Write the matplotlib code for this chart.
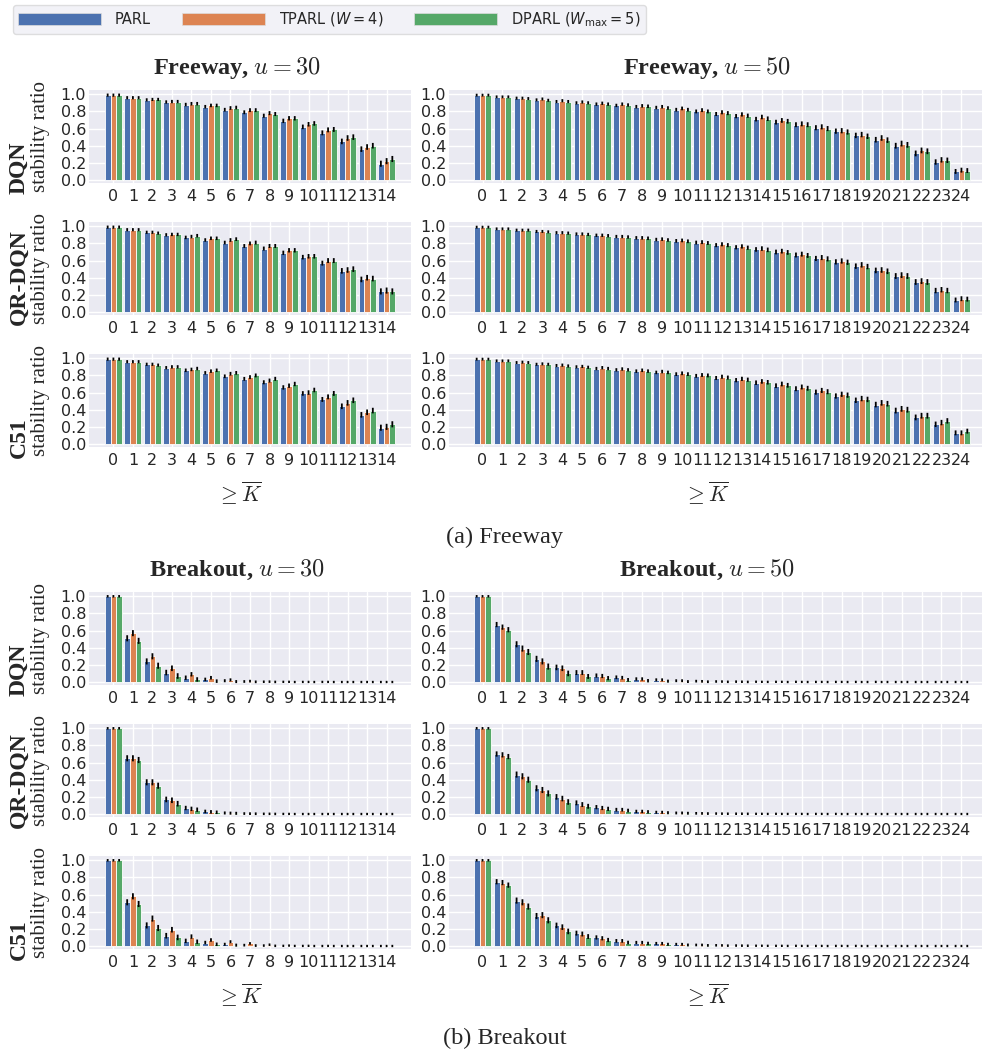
import matplotlib
matplotlib.use('Agg')
import matplotlib.pyplot as plt
import numpy as np
import seaborn as sns
from matplotlib.patches import Patch
from matplotlib.ticker import FormatStrFormatter

sns.set_theme(style='darkgrid')
plt.rcParams['font.family'] = ['DejaVu Sans']

# ---------------- data ----------------
methods = ['PARL', 'TPARL ($W = 4$)', 'DPARL ($W_{\\max} = 5$)']
colors = ['#4C72B0', '#DD8452', '#55A868']
algos = ['DQN', 'QR-DQN', 'C51']
k30 = list(range(15))
k50 = list(range(25))

# Freeway, u = 30
fw30_dqn_parl  = [0.99, 0.96, 0.935, 0.91, 0.88, 0.855, 0.82, 0.79, 0.75, 0.69, 0.62, 0.55, 0.45, 0.36, 0.19]
fw30_dqn_tparl = [0.99, 0.96, 0.94, 0.915, 0.89, 0.87, 0.84, 0.815, 0.78, 0.72, 0.65, 0.585, 0.49, 0.385, 0.22]
fw30_dqn_dparl = [0.99, 0.96, 0.94, 0.915, 0.89, 0.87, 0.845, 0.815, 0.77, 0.72, 0.66, 0.59, 0.50, 0.40, 0.245]
fw30_qr_parl   = [0.99, 0.96, 0.93, 0.90, 0.87, 0.84, 0.81, 0.77, 0.74, 0.69, 0.64, 0.57, 0.48, 0.38, 0.24]
fw30_qr_tparl  = [0.99, 0.96, 0.93, 0.905, 0.88, 0.86, 0.84, 0.80, 0.77, 0.72, 0.65, 0.60, 0.49, 0.40, 0.25]
fw30_qr_dparl  = [0.99, 0.96, 0.92, 0.905, 0.89, 0.86, 0.85, 0.81, 0.77, 0.72, 0.65, 0.60, 0.50, 0.39, 0.24]
fw30_c51_parl  = [0.99, 0.96, 0.93, 0.89, 0.86, 0.83, 0.79, 0.76, 0.72, 0.66, 0.59, 0.52, 0.44, 0.34, 0.19]
fw30_c51_tparl = [0.99, 0.96, 0.93, 0.90, 0.87, 0.85, 0.82, 0.78, 0.74, 0.68, 0.60, 0.55, 0.48, 0.37, 0.20]
fw30_c51_dparl = [0.99, 0.96, 0.92, 0.90, 0.88, 0.86, 0.83, 0.80, 0.76, 0.70, 0.63, 0.59, 0.51, 0.39, 0.23]
fw30_err = [0.008, 0.008, 0.008, 0.009, 0.01, 0.01, 0.011, 0.012, 0.013, 0.015, 0.016, 0.018, 0.022, 0.022, 0.025]

# Freeway, u = 50
fw50_dqn_parl  = [0.99, 0.97, 0.955, 0.935, 0.915, 0.90, 0.885, 0.87, 0.855, 0.845, 0.82, 0.80, 0.77, 0.745, 0.71,
                  0.675, 0.645, 0.61, 0.57, 0.52, 0.47, 0.40, 0.31, 0.21, 0.10]
fw50_dqn_tparl = [0.99, 0.97, 0.955, 0.945, 0.925, 0.91, 0.895, 0.885, 0.865, 0.855, 0.835, 0.815, 0.79, 0.765, 0.735,
                  0.695, 0.655, 0.62, 0.575, 0.53, 0.49, 0.425, 0.345, 0.235, 0.115]
fw50_dqn_dparl = [0.99, 0.97, 0.95, 0.93, 0.915, 0.90, 0.885, 0.875, 0.86, 0.84, 0.82, 0.80, 0.78, 0.75, 0.715,
                  0.685, 0.645, 0.60, 0.56, 0.51, 0.465, 0.41, 0.335, 0.23, 0.11]
fw50_qr_parl   = [0.99, 0.97, 0.955, 0.94, 0.925, 0.91, 0.895, 0.88, 0.865, 0.845, 0.83, 0.81, 0.78, 0.755, 0.73,
                  0.70, 0.665, 0.625, 0.585, 0.535, 0.485, 0.42, 0.35, 0.25, 0.14]
fw50_qr_tparl  = [0.99, 0.97, 0.955, 0.94, 0.925, 0.91, 0.895, 0.88, 0.865, 0.85, 0.835, 0.815, 0.79, 0.765, 0.74,
                  0.71, 0.675, 0.635, 0.595, 0.55, 0.49, 0.43, 0.36, 0.26, 0.155]
fw50_qr_dparl  = [0.99, 0.97, 0.955, 0.935, 0.92, 0.905, 0.89, 0.875, 0.86, 0.84, 0.825, 0.805, 0.78, 0.75, 0.725,
                  0.695, 0.66, 0.62, 0.58, 0.53, 0.475, 0.42, 0.35, 0.25, 0.15]
fw50_c51_parl  = [0.99, 0.97, 0.95, 0.93, 0.915, 0.90, 0.88, 0.865, 0.85, 0.835, 0.815, 0.795, 0.77, 0.745, 0.715,
                  0.68, 0.645, 0.605, 0.56, 0.51, 0.46, 0.39, 0.31, 0.23, 0.13]
fw50_c51_tparl = [0.99, 0.97, 0.955, 0.935, 0.92, 0.905, 0.89, 0.875, 0.86, 0.845, 0.825, 0.805, 0.785, 0.76, 0.73,
                  0.70, 0.665, 0.625, 0.58, 0.53, 0.48, 0.41, 0.33, 0.25, 0.13]
fw50_c51_dparl = [0.99, 0.97, 0.95, 0.93, 0.91, 0.895, 0.88, 0.865, 0.85, 0.835, 0.815, 0.80, 0.775, 0.75, 0.72,
                  0.685, 0.65, 0.61, 0.57, 0.52, 0.47, 0.40, 0.33, 0.27, 0.15]
fw50_err = [0.006, 0.006, 0.007, 0.007, 0.008, 0.008, 0.009, 0.009, 0.01, 0.01, 0.011, 0.012, 0.013, 0.014, 0.016,
            0.017, 0.018, 0.019, 0.02, 0.021, 0.022, 0.023, 0.023, 0.021, 0.018]

# Breakout, u = 30
bo30_dqn_parl  = [1.0, 0.51, 0.24, 0.11, 0.05, 0.03, 0.015, 0.006, 0.003, 0.002, 0.001, 0.001, 0.0, 0.0, 0.0]
bo30_dqn_tparl = [1.0, 0.57, 0.30, 0.16, 0.09, 0.05, 0.025, 0.01, 0.004, 0.002, 0.001, 0.001, 0.0, 0.0, 0.0]
bo30_dqn_dparl = [1.0, 0.48, 0.19, 0.07, 0.03, 0.01, 0.005, 0.002, 0.001, 0.0, 0.0, 0.0, 0.0, 0.0, 0.0]
bo30_qr_parl   = [1.0, 0.65, 0.37, 0.17, 0.07, 0.03, 0.012, 0.005, 0.002, 0.001, 0.0, 0.0, 0.0, 0.0, 0.0]
bo30_qr_tparl  = [1.0, 0.65, 0.37, 0.16, 0.06, 0.025, 0.01, 0.004, 0.002, 0.001, 0.0, 0.0, 0.0, 0.0, 0.0]
bo30_qr_dparl  = [1.0, 0.63, 0.33, 0.12, 0.05, 0.02, 0.008, 0.003, 0.001, 0.0, 0.0, 0.0, 0.0, 0.0, 0.0]
bo30_c51_parl  = [1.0, 0.51, 0.24, 0.12, 0.06, 0.04, 0.02, 0.01, 0.005, 0.002, 0.001, 0.0, 0.0, 0.0, 0.0]
bo30_c51_tparl = [1.0, 0.58, 0.32, 0.19, 0.11, 0.07, 0.05, 0.03, 0.015, 0.005, 0.002, 0.001, 0.0, 0.0, 0.0]
bo30_c51_dparl = [1.0, 0.49, 0.21, 0.10, 0.05, 0.02, 0.01, 0.005, 0.002, 0.001, 0.0, 0.0, 0.0, 0.0, 0.0]
bo30_err = [0.004, 0.025, 0.025, 0.022, 0.015, 0.01, 0.007, 0.005, 0.004, 0.003, 0.003, 0.003, 0.003, 0.003, 0.003]

# Breakout, u = 50
bo50_dqn_parl  = [1.0, 0.67, 0.44, 0.27, 0.17, 0.11, 0.075, 0.055, 0.035, 0.025, 0.015, 0.01, 0.006, 0.004, 0.003,
                  0.002, 0.002, 0.001, 0.001, 0.001, 0.001, 0.0, 0.0, 0.0, 0.0]
bo50_dqn_tparl = [1.0, 0.64, 0.39, 0.24, 0.16, 0.11, 0.07, 0.05, 0.035, 0.025, 0.015, 0.008, 0.005, 0.003, 0.002,
                  0.002, 0.001, 0.001, 0.001, 0.0, 0.0, 0.0, 0.0, 0.0, 0.0]
bo50_dqn_dparl = [1.0, 0.61, 0.35, 0.18, 0.10, 0.065, 0.045, 0.025, 0.015, 0.01, 0.005, 0.003, 0.002, 0.001, 0.001,
                  0.0, 0.0, 0.0, 0.0, 0.0, 0.0, 0.0, 0.0, 0.0, 0.0]
bo50_qr_parl   = [1.0, 0.70, 0.46, 0.30, 0.20, 0.13, 0.08, 0.05, 0.03, 0.02, 0.012, 0.008, 0.005, 0.003, 0.002,
                  0.002, 0.001, 0.001, 0.001, 0.0, 0.0, 0.0, 0.0, 0.0, 0.0]
bo50_qr_tparl  = [1.0, 0.69, 0.44, 0.28, 0.18, 0.11, 0.07, 0.05, 0.03, 0.02, 0.012, 0.007, 0.004, 0.003, 0.002,
                  0.001, 0.001, 0.001, 0.0, 0.0, 0.0, 0.0, 0.0, 0.0, 0.0]
bo50_qr_dparl  = [1.0, 0.67, 0.40, 0.24, 0.14, 0.09, 0.06, 0.04, 0.025, 0.015, 0.009, 0.005, 0.003, 0.002, 0.001,
                  0.001, 0.0, 0.0, 0.0, 0.0, 0.0, 0.0, 0.0, 0.0, 0.0]
bo50_c51_parl  = [1.0, 0.75, 0.53, 0.35, 0.24, 0.15, 0.10, 0.06, 0.04, 0.03, 0.02, 0.012, 0.008, 0.005, 0.003,
                  0.002, 0.002, 0.001, 0.001, 0.001, 0.0, 0.0, 0.0, 0.0, 0.0]
bo50_c51_tparl = [1.0, 0.74, 0.51, 0.36, 0.22, 0.14, 0.09, 0.06, 0.04, 0.03, 0.02, 0.012, 0.007, 0.004, 0.003,
                  0.002, 0.001, 0.001, 0.001, 0.0, 0.0, 0.0, 0.0, 0.0, 0.0]
bo50_c51_dparl = [1.0, 0.71, 0.46, 0.30, 0.17, 0.11, 0.07, 0.04, 0.03, 0.02, 0.012, 0.007, 0.004, 0.003, 0.002,
                  0.001, 0.001, 0.0, 0.0, 0.0, 0.0, 0.0, 0.0, 0.0, 0.0]
bo50_err = [0.004, 0.02, 0.025, 0.025, 0.022, 0.018, 0.014, 0.011, 0.009, 0.007, 0.006, 0.005, 0.004, 0.004, 0.003,
            0.003, 0.003, 0.003, 0.003, 0.003, 0.003, 0.003, 0.003, 0.003, 0.003]

# ---------------- figure ----------------
W, H = 985, 1053
fig = plt.figure(figsize=(W / 100, H / 100), dpi=100)


def rect(x0, y0, x1, y1):
    return [x0 / W, 1 - y1 / H, (x1 - x0) / W, (y1 - y0) / H]


def fx(x):
    return x / W


def fy(y):
    return 1 - y / H


def draw(ax, series, err, ks, xlim):
    x = np.arange(len(ks))
    w = 0.88 / 3
    for i, (vals, c) in enumerate(zip(series, colors)):
        xs = x + (i - 1) * w
        ax.bar(xs, vals, width=w, color=c, edgecolor='white', linewidth=0.6, zorder=2)
        for xi, v, e in zip(xs, vals, err):
            ax.plot([xi, xi], [v - e, v + e], color='black', lw=1.3,
                    solid_capstyle='projecting', snap=False, zorder=3)
    ax.set_xticks(x)
    ax.set_xticklabels([str(k) for k in ks])
    ax.set_yticks([0.0, 0.2, 0.4, 0.6, 0.8, 1.0])
    ax.yaxis.set_major_formatter(FormatStrFormatter('%.1f'))
    ax.set_ylim(-0.035, 1.05)
    ax.set_xlim(*xlim)
    ax.tick_params(labelsize=11.5, length=0)
    ax.tick_params(axis='x', pad=4)
    ax.tick_params(axis='y', pad=2)
    for s in ax.spines.values():
        s.set_visible(False)


serif = 'Liberation Serif'

sections = [
    ('Freeway', 90, [(fw30_dqn_parl, fw30_dqn_tparl, fw30_dqn_dparl),
                     (fw30_qr_parl, fw30_qr_tparl, fw30_qr_dparl),
                     (fw30_c51_parl, fw30_c51_tparl, fw30_c51_dparl)],
     [(fw50_dqn_parl, fw50_dqn_tparl, fw50_dqn_dparl),
      (fw50_qr_parl, fw50_qr_tparl, fw50_qr_dparl),
      (fw50_c51_parl, fw50_c51_tparl, fw50_c51_dparl)], fw30_err, fw50_err, '(a) Freeway', 537),
    ('Breakout', 592, [(bo30_dqn_parl, bo30_dqn_tparl, bo30_dqn_dparl),
                       (bo30_qr_parl, bo30_qr_tparl, bo30_qr_dparl),
                       (bo30_c51_parl, bo30_c51_tparl, bo30_c51_dparl)],
     [(bo50_dqn_parl, bo50_dqn_tparl, bo50_dqn_dparl),
      (bo50_qr_parl, bo50_qr_tparl, bo50_qr_dparl),
      (bo50_c51_parl, bo50_c51_tparl, bo50_c51_dparl)], bo30_err, bo50_err, '(b) Breakout', 1038),
]

row_step = 132
ax_h = 93
for game, top0, s30, s50, e30, e50, caption, cap_y in sections:
    for r in range(3):
        top = top0 + r * row_step
        axl = fig.add_axes(rect(89, top, 411, top + ax_h))
        draw(axl, s30[r], e30, k30, (-1.25, 15.25))
        axr = fig.add_axes(rect(449, top, 982, top + ax_h))
        draw(axr, s50[r], e50, k50, (-1.68, 25.03))
        # row labels
        cy = top + ax_h / 2
        fig.text(fx(41), fy(cy), 'stability ratio', rotation=90, ha='center', va='center',
                 family=serif, fontsize=15)
        fig.text(fx(19), fy(cy + 57), algos[r], rotation=90, rotation_mode='anchor',
                 ha='left', va='center', family=serif, fontweight='bold', fontsize=17)
    # titles
    ty = top0 - 22
    t1 = fig.text(fx(237), fy(ty), game + ', $u = 30$', ha='center', va='center',
                  family=serif, fontweight='bold', fontsize=17.5)
    t2 = fig.text(fx(707), fy(ty), game + ', $u = 50$', ha='center', va='center',
                  family=serif, fontweight='bold', fontsize=17.5)
    for t in (t1, t2):
        t.set_math_fontfamily('cm')
    # x labels
    xy = top0 + 2 * row_step + ax_h + 46
    for cx in (240, 707):
        t = fig.text(fx(cx), fy(xy), r'$\geq \overline{K}$', ha='center', va='center', fontsize=15.5)
        t.set_math_fontfamily('cm')
    fig.text(fx(505), fy(cap_y), caption, ha='center', va='center', family=serif, fontsize=17.5)

handles = [Patch(facecolor=c, edgecolor='#DDDDDD', linewidth=0.5) for c in colors]
leg = fig.legend(handles, methods, loc='upper left', bbox_to_anchor=(fx(13), fy(5)),
                 ncol=3, fontsize=10.5, handlelength=5.7, handleheight=0.85, columnspacing=2.1,
                 handletextpad=0.95, frameon=True, facecolor='#EAEAF2', framealpha=0.6,
                 edgecolor='#CCCCCC', borderpad=0.35, borderaxespad=0)

fig.savefig('out.png', dpi=100)
